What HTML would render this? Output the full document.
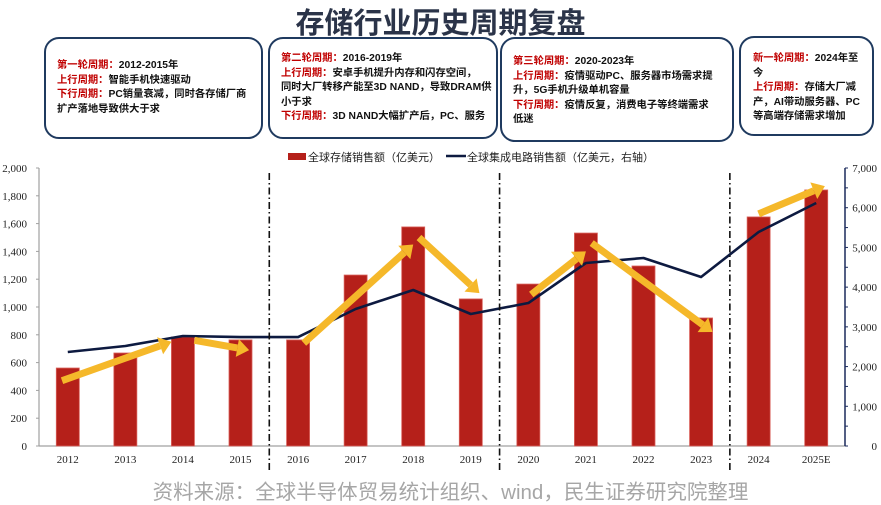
<!DOCTYPE html>
<html><head><meta charset="utf-8">
<style>
body{margin:0;width:881px;height:502px;background:#fff;position:relative;overflow:hidden;font-family:"Liberation Sans","Noto Sans CJK SC",sans-serif;}
#title{position:absolute;left:0;width:881px;top:0px;text-align:center;font-size:29px;font-weight:bold;color:#2b3449;}
.box{position:absolute;border:2px solid #1f3a5f;border-radius:15px;box-sizing:border-box;font-size:10.3px;line-height:14.5px;color:#111;padding-left:11px;white-space:nowrap;overflow:hidden;font-weight:bold;}
.r{color:#c00000;}
#src{position:absolute;left:0;width:881px;text-align:center;top:475px;font-size:20.5px;color:#a6a6a6;padding-left:20px;box-sizing:border-box;}
svg{position:absolute;left:0;top:0;}
</style></head><body>
<div id="title">存储行业历史周期复盘</div>
<div class="box" style="left:44px;top:37px;width:219px;height:102px;padding-top:20px;"><span class="r">第一轮周期：</span>2012-2015年<br><span class="r">上行周期：</span>智能手机快速驱动<br><span class="r">下行周期：</span>PC销量衰减，同时各存储厂商<br>扩产落地导致供大于求</div>
<div class="box" style="left:268px;top:37px;width:230px;height:102px;padding-top:13px;"><span class="r">第二轮周期：</span>2016-2019年<br><span class="r">上行周期：</span>安卓手机提升内存和闪存空间，<br>同时大厂转移产能至3D NAND，导致DRAM供<br>小于求<br><span class="r">下行周期：</span>3D NAND大幅扩产后，PC、服务</div>
<div class="box" style="left:500px;top:37px;width:234px;height:105px;padding-top:16px;"><span class="r">第三轮周期：</span>2020-2023年<br><span class="r">上行周期：</span>疫情驱动PC、服务器市场需求提<br>升，5G手机升级单机容量<br><span class="r">下行周期：</span>疫情反复，消费电子等终端需求<br>低迷</div>
<div class="box" style="left:739px;top:36px;width:135px;height:100px;padding-top:14px;padding-left:12px;"><span class="r">新一轮周期：</span>2024年至<br>今<br><span class="r">上行周期：</span>存储大厂减<br>产，AI带动服务器、PC<br>等高端存储需求增加</div>
<svg id="chart" width="881" height="502"></svg>
<div id="src">资料来源：全球半导体贸易统计组织、wind，民生证券研究院整理</div>
<script>
const categories=["2012","2013","2014","2015","2016","2017","2018","2019","2020","2021","2022","2023","2024","2025E"];
const memorySales=[561,669,784,763,763,1230,1576,1058,1165,1532,1295,921,1648,1842];
const icSales=[2367,2518,2770,2744,2744,3450,3928,3324,3600,4608,4734,4255,5388,6119];
const leftTicks=[0,200,400,600,800,1000,1200,1400,1600,1800,2000];
const rightTicks=[0,1000,2000,3000,4000,5000,6000,7000];
const dividers=[3.5,7.5,11.5];
const arrows=[[-0.1,470,1.8,750],[2.2,760,3.15,690],[4.1,740,6.0,1450],[6.1,1500,7.15,1100],[8.05,1090,9.0,1400],[9.1,1460,11.2,820],[12.0,1670,13.15,1870]];
const ns="http://www.w3.org/2000/svg";
const svg=document.getElementById('chart');
const X0=39,X1=845,Y0=446,Y1=168,step=(X1-X0)/categories.length;
const xC=i=>X0+step*(i+0.5);
const yL=v=>Y0-(v/2000)*(Y0-Y1);
const yR=v=>Y0-(v/7000)*(Y0-Y1);
function mk(t,a,p){const e=document.createElementNS(ns,t);for(const k in a)e.setAttribute(k,a[k]);(p||svg).appendChild(e);return e;}
let ax=mk('line',{x1:X0,y1:Y1,x2:X0,y2:Y0,stroke:'#a0a0a0','stroke-width':1.2});


leftTicks.forEach(v=>{
 mk('line',{x1:X0-3,x2:X0,y1:yL(v),y2:yL(v),stroke:'#a0a0a0'});
 const t=mk('text',{x:X0-12,y:yL(v)+4,'text-anchor':'end','font-size':11,'font-family':'Liberation Serif,serif',fill:'#222'});
 t.textContent=v.toLocaleString('en-US');
 
 
});
let bx=mk('line',{x1:X0,y1:Y0,x2:X1,y2:Y0,stroke:'#a0a0a0','stroke-width':1.2});


let rx=mk('line',{x1:X1,y1:Y1,x2:X1,y2:Y0,stroke:'#1b2a5c','stroke-width':1.5});


rightTicks.forEach(v=>{
 mk('line',{x1:X1,x2:X1+3,y1:yR(v),y2:yR(v),stroke:'#1b2a5c'});
 if(v<7000) mk('line',{x1:X1,x2:X1+3,y1:yR(v+500),y2:yR(v+500),stroke:'#1b2a5c'});
 const t=mk('text',{x:X1+32,y:yR(v)+4,'text-anchor':'end','font-size':11,'font-family':'Liberation Serif,serif',fill:'#222'});
 t.textContent=v.toLocaleString('en-US');
 
 
});
categories.forEach((c,i)=>{
 const b=mk('rect',{x:xC(i)-11.5,y:yL(memorySales[i]),width:23,height:Y0-yL(memorySales[i]),fill:'#b5201a',stroke:'#d9605a','stroke-width':0.8});
 
 
 const t=mk('text',{x:xC(i),y:463,'text-anchor':'middle','font-size':11,'font-family':'Liberation Serif,serif',fill:'#222'});
 t.textContent=c;
 
 
});
const ln=mk('polyline',{points:icSales.map((v,i)=>xC(i)+','+yR(v)).join(' '),fill:'none',stroke:'#0d1a40','stroke-width':2.6,'stroke-linejoin':'round'});


dividers.forEach(d=>{
 const x=X0+step*(d+0.5);
 const l=mk('line',{x1:x,y1:173,x2:x,y2:472,stroke:'#111','stroke-width':1.6,'stroke-dasharray':'7,3,1.5,3'});
 
 
});
arrows.forEach(a=>{
 const x1=xC(a[0]),y1=yL(a[1]),x2=xC(a[2]),y2=yL(a[3]);
 const ang=Math.atan2(y2-y1,x2-x1),L=12,W=9;
 const bxp=x2-L*Math.cos(ang),byp=y2-L*Math.sin(ang);
 const g=mk('g',{});
 
 
 mk('line',{x1:x1,y1:y1,x2:bxp,y2:byp,stroke:'#f5b82a','stroke-width':7},g);
 const px=-Math.sin(ang)*W,py=Math.cos(ang)*W;
 mk('polygon',{points:`${x2},${y2} ${bxp+px},${byp+py} ${bxp-px},${byp-py}`,fill:'#f5b82a'},g);
});
const lg=mk('g',{});


mk('rect',{x:288,y:153,width:18,height:7,fill:'#b5201a'},lg);
let t1=mk('text',{x:308,y:161,'font-size':11,fill:'#222'},lg);t1.textContent='全球存储销售额（亿美元）';
mk('line',{x1:446,x2:466,y1:156,y2:156,stroke:'#0d1a40','stroke-width':2.5},lg);
let t2=mk('text',{x:467,y:161,'font-size':11,fill:'#222'},lg);t2.textContent='全球集成电路销售额（亿美元，右轴）';
</script>
</body></html>
